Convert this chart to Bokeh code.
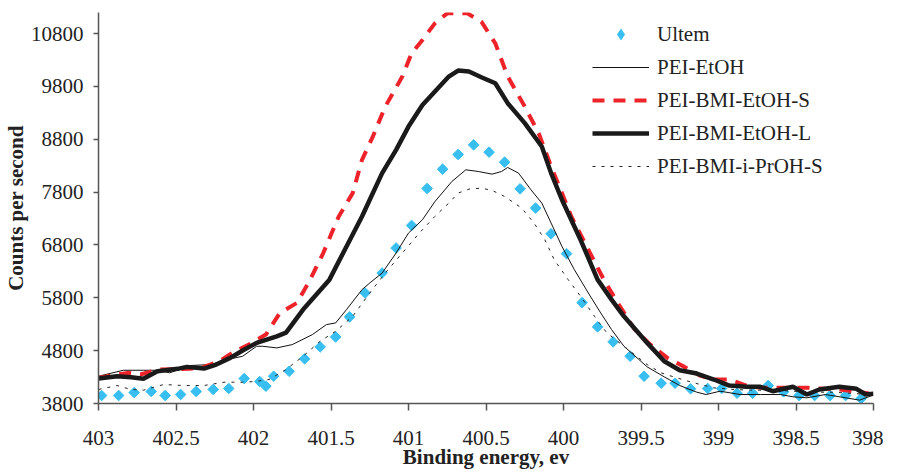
import numpy as np
from bokeh.plotting import figure
from bokeh.models import Range1d, FixedTicker, NumeralTickFormatter, Legend, LegendItem, Title
from bokeh.embed import file_html
from bokeh.resources import INLINE

# ---- data (binding energy eV, counts per second) ----
ultem_be = [402.98, 402.87, 402.77, 402.66, 402.57, 402.47, 402.37, 402.26, 402.16, 402.06,
            401.96, 401.92, 401.87, 401.77, 401.67, 401.57, 401.47, 401.38, 401.28, 401.17,
            401.08, 400.98, 400.88, 400.78, 400.68, 400.58, 400.48, 400.38, 400.28, 400.18,
            400.08, 399.98, 399.88, 399.78, 399.68, 399.57, 399.48, 399.37, 399.28, 399.18,
            399.07, 398.98, 398.88, 398.78, 398.68, 398.58, 398.48, 398.38, 398.28, 398.18,
            398.08]
ultem_cps = [3951, 3951, 4008, 4027, 3951, 3970, 4027, 4065, 4084, 4272,
             4216, 4127, 4316, 4410, 4645, 4871, 5060, 5439, 5892, 6270,
             6743, 7170, 7869, 8235, 8512, 8695, 8557, 8368, 7863, 7499,
             7013, 6635, 5709, 5250, 4966, 4694, 4316, 4184, 4184, 4078,
             4084, 4084, 3995, 3995, 4140, 4021, 3951, 3951, 3951, 3951,
             3894]

etoh_be = [403.00, 402.84, 402.71, 402.62, 402.54, 402.41, 402.28, 402.15, 402.07, 401.98,
           401.94, 401.85, 401.75, 401.62, 401.53, 401.47, 401.40, 401.30, 401.25, 401.17,
           401.08, 401.00, 400.91, 400.83, 400.72, 400.63, 400.55, 400.46, 400.40, 400.36,
           400.29, 400.21, 400.14, 400.08, 400.01, 399.93, 399.84, 399.76, 399.69, 399.61,
           399.46, 399.35, 399.25, 399.14, 399.08, 398.99, 398.86, 398.73, 398.60, 398.52,
           398.43, 398.31, 398.18, 398.09, 398.01]
etoh_cps = [4316, 4429, 4429, 4429, 4380, 4518, 4537, 4644, 4694, 4883,
            4883, 4852, 4915, 5104, 5293, 5325, 5577, 5955, 6081, 6270,
            6648, 7026, 7278, 7620, 8002, 8223, 8191, 8141, 8191, 8267,
            8160, 7845, 7593, 7215, 6773, 6333, 5892, 5514, 5199, 4883,
            4493, 4304, 4140, 4014, 3970, 4033, 3970, 3970, 3970, 3927,
            3908, 3970, 3908, 3863, 3951]

bmi_s_be = [403.00, 402.81, 402.73, 402.61, 402.41, 402.32, 402.22, 402.12, 402.03, 401.92,
            401.83, 401.72, 401.64, 401.55, 401.45, 401.36, 401.30, 401.23, 401.15, 401.04,
            400.98, 400.91, 400.83, 400.75, 400.62, 400.53, 400.44, 400.36, 400.25, 400.16,
            400.08, 400.01, 399.95, 399.84, 399.74, 399.65, 399.54, 399.44, 399.33, 399.22,
            399.12, 399.03, 398.93, 398.82, 398.73, 398.63, 398.54, 398.42, 398.31, 398.22,
            398.13, 398.03]
bmi_s_cps = [4290, 4380, 4348, 4443, 4456, 4493, 4599, 4788, 4915, 5104,
             5514, 5703, 6112, 6648, 7340, 7782, 8412, 8852, 9419, 9987,
             10428, 10680, 10995, 11184, 11184, 11026, 10617, 9990, 9419, 8914,
             8286, 7782, 7340, 6711, 6144, 5703, 5199, 4915, 4663, 4493,
             4329, 4254, 4254, 4140, 4097, 4097, 4097, 4097, 4078, 4065,
             4033, 3989]

bmi_l_be = [403.00, 402.88, 402.79, 402.71, 402.62, 402.49, 402.43, 402.32, 402.24, 402.15,
            402.07, 401.98, 401.85, 401.79, 401.68, 401.51, 401.40, 401.30, 401.25, 401.17,
            401.08, 401.00, 400.91, 400.81, 400.74, 400.68, 400.61, 400.53, 400.44, 400.36,
            400.25, 400.14, 400.08, 400.01, 399.95, 399.89, 399.78, 399.69, 399.61, 399.46,
            399.35, 399.25, 399.14, 399.03, 398.93, 398.82, 398.73, 398.65, 398.52, 398.43,
            398.35, 398.22, 398.11, 398.05, 398.00]
bmi_l_cps = [4272, 4316, 4297, 4267, 4410, 4456, 4493, 4462, 4537, 4663,
             4802, 4947, 5072, 5142, 5577, 6144, 6773, 7340, 7656, 8160,
             8601, 9041, 9451, 9766, 9987, 10101, 10082, 9975, 9862, 9484,
             9106, 8664, 8160, 7656, 7278, 6899, 6144, 5766, 5450, 4947,
             4599, 4429, 4367, 4254, 4140, 4116, 4116, 4033, 4116, 3970,
             4065, 4116, 4078, 3970, 3983]

iproh_be = [403.00, 402.88, 402.79, 402.71, 402.58, 402.45, 402.32, 402.19, 402.07, 401.99,
            401.90, 401.79, 401.68, 401.57, 401.47, 401.36, 401.25, 401.15, 401.04, 400.93,
            400.83, 400.74, 400.68, 400.61, 400.53, 400.46, 400.38, 400.27, 400.19, 400.12,
            400.06, 399.97, 399.89, 399.80, 399.72, 399.61, 399.46, 399.37, 399.29, 399.16,
            399.03, 398.90, 398.78, 398.65, 398.52, 398.39, 398.26, 398.13, 398.01]
iproh_cps = [4065, 4140, 4065, 4052, 4159, 4140, 4140, 4203, 4203, 4216,
             4254, 4443, 4694, 4978, 5166, 5450, 5892, 6270, 6648, 7026,
             7340, 7593, 7782, 7857, 7876, 7832, 7718, 7499, 7215, 6899,
             6522, 6144, 5829, 5450, 5136, 4883, 4537, 4380, 4304, 4191,
             4097, 4065, 4052, 4052, 4033, 4014, 4014, 3989, 3970]

y_ticks = [3800, 4800, 5800, 6800, 7800, 8800, 9800, 10800]
x_ticks = [403, 402.5, 402, 401.5, 401, 400.5, 400, 399.5, 399, 398.5, 398]

series_names = ["Ultem", "PEI-EtOH", "PEI-BMI-EtOH-S", "PEI-BMI-EtOH-L", "PEI-BMI-i-PrOH-S"]

FONT = "Liberation Serif"
BLUE = "#38BEF0"

p = figure(width=883, height=471, output_backend="svg", toolbar_location=None,
           x_range=Range1d(403, 398), y_range=Range1d(3800, 11200),
           min_border_left=93, min_border_right=10, min_border_top=12, min_border_bottom=68)
p.outline_line_color = None
p.grid.visible = False
p.background_fill_color = "white"

# axes
for ax in (p.xaxis[0], p.yaxis[0]):
    ax.axis_line_color = "#555555"
    ax.axis_line_width = 1.5
    ax.major_tick_line_color = "#555555"
    ax.major_tick_line_width = 1.5
    ax.minor_tick_line_color = None
    ax.major_tick_in = 0
    ax.major_label_text_font = FONT
    ax.major_label_text_font_size = "21px"
    ax.major_label_text_color = "#222222"
    ax.axis_label_text_font = FONT
    ax.axis_label_text_font_size = "21px"
    ax.axis_label_text_font_style = "bold"
    ax.axis_label_text_color = "#222222"

p.xaxis.ticker = FixedTicker(ticks=x_ticks)
p.xaxis.formatter = NumeralTickFormatter(format="0.[0]")
p.xaxis.major_tick_out = 7
p.xaxis.major_label_standoff = 20

p.yaxis.ticker = FixedTicker(ticks=y_ticks)
p.yaxis.formatter = NumeralTickFormatter(format="0")
p.yaxis.major_tick_out = 5
p.yaxis.major_label_standoff = 10
p.yaxis.axis_label = "Counts per second"
p.yaxis.axis_label_standoff = 0

# x axis title placed in its own panel below the axis
xtitle = Title(text="Binding energy, ev", align="center", vertical_align="bottom",
               standoff=-10, text_font=FONT, text_font_size="21px",
               text_font_style="bold", text_color="#222222")
p.add_layout(xtitle, "below")

# series
r_ultem = p.scatter(ultem_be, ultem_cps, marker="square", angle=np.pi / 4, size=7.5,
                    fill_color=BLUE, line_color=BLUE)
r_etoh = p.line(etoh_be, etoh_cps, line_color="#111111", line_width=1)
r_bmis = p.line(bmi_s_be, bmi_s_cps, line_color="#EE2229", line_width=4, line_dash="12 9")
r_bmil = p.line(bmi_l_be, bmi_l_cps, line_color="#1a1a1a", line_width=4.5)
r_iproh = p.line(iproh_be, iproh_cps, line_color="#222222", line_width=1, line_dash="3 6")

# legend key for Ultem: zero-size diamonds (legend glyphs ignore the marker angle)
r_ultem_key = p.scatter(ultem_be, ultem_cps, marker="diamond", size=0,
                        fill_color=BLUE, line_color=None)

legend = Legend(items=[LegendItem(label=n, renderers=[r]) for n, r in
                       zip(series_names, [r_ultem_key, r_etoh, r_bmis, r_bmil, r_iproh])],
                location=(494, 222), border_line_color=None, background_fill_alpha=0,
                padding=0, margin=0, spacing=3, glyph_width=57, glyph_height=30,
                label_height=30, label_standoff=8, label_text_font=FONT,
                label_text_font_size="21px", label_text_color="#222222")
p.add_layout(legend)

open("out.html", "w").write(file_html(p, INLINE))
